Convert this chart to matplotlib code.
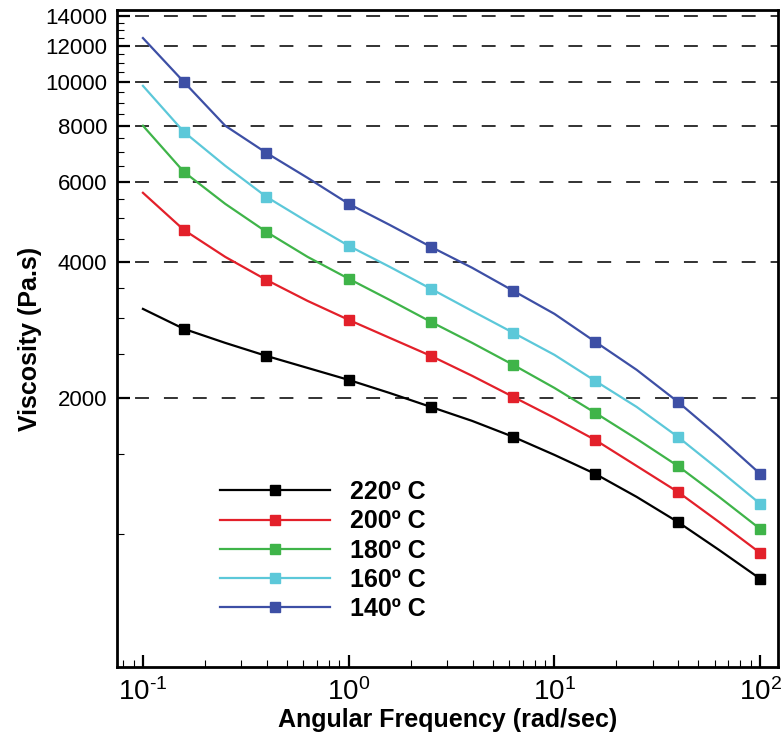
import matplotlib
matplotlib.use("Agg")
import matplotlib.pyplot as plt
from matplotlib.ticker import FixedLocator, NullFormatter, LogLocator

plt.rcParams['font.family'] = ['Liberation Sans', 'DejaVu Sans']
plt.rcParams['mathtext.fontset'] = 'custom'
plt.rcParams['mathtext.rm'] = 'Liberation Sans'
plt.rcParams['mathtext.it'] = 'Liberation Sans:italic'
plt.rcParams['mathtext.bf'] = 'Liberation Sans:bold'
plt.rcParams['axes.unicode_minus'] = False

freq = [0.1, 0.158, 0.251, 0.398, 0.631, 1.0, 1.58, 2.51, 3.98, 6.31,
        10.0, 15.8, 25.1, 39.8, 63.1, 100.0]

visc_220 = [3147, 2843, 2647, 2477, 2330, 2192, 2051, 1910, 1779, 1640,
            1496, 1358, 1208, 1063, 922, 796]
visc_200 = [5684, 4706, 4102, 3648, 3278, 2976, 2716, 2477, 2238, 2010,
            1806, 1614, 1414, 1239, 1063, 908]
visc_180 = [8000, 6325, 5374, 4659, 4102, 3669, 3295, 2946, 2647, 2366,
            2104, 1853, 1623, 1414, 1208, 1026]
visc_160 = [9800, 7754, 6524, 5569, 4903, 4339, 3900, 3486, 3114, 2786,
            2490, 2180, 1910, 1640, 1386, 1166]
visc_140 = [12500, 10000, 8000, 6966, 6134, 5374, 4828, 4316, 3880, 3450,
            3068, 2661, 2307, 1960, 1640, 1358]

series_labels = ['220º C', '200º C', '180º C', '160º C', '140º C']
series_colors = ['#000000', '#e3202a', '#3fb449', '#5cc8d9', '#3d4fa5']
series_data = [visc_220, visc_200, visc_180, visc_160, visc_140]

y_major = [2000, 4000, 6000, 8000, 10000, 12000, 14000]
y_minor = [1000, 1500, 2500, 3000, 3500, 4500, 5000, 5500, 6500, 7000, 7500,
           8500, 9000, 9500, 10500, 11000, 11500, 12500, 13000, 13500]

x_major = [0.1, 1, 10, 100]
x_labels = [r'$10^{\text{-}1}$', '$10^{0}$', '$10^{1}$', '$10^{2}$']

fig = plt.figure(figsize=(7.81, 7.38), dpi=100)
ax = fig.add_axes([117/781, 1 - 667/738, 661/781, 657/738])

for lab, col, vals in zip(series_labels, series_colors, series_data):
    ax.plot(freq, vals, color=col, lw=1.6, marker='s', ms=6.5,
            markevery=slice(1, None, 2), label=lab, zorder=3)

ax.set_xscale('log')
ax.set_yscale('log')
ax.set_xlim(0.0748, 122)
ax.set_ylim(508, 14420)

ax.yaxis.set_major_locator(FixedLocator(y_major))
ax.yaxis.set_minor_locator(FixedLocator(y_minor))
ax.yaxis.set_minor_formatter(NullFormatter())
ax.set_yticklabels([str(v) for v in y_major])
ax.xaxis.set_major_locator(FixedLocator(x_major))
ax.set_xticklabels(x_labels)
ax.xaxis.set_minor_locator(LogLocator(base=10, subs=range(2, 10), numticks=20))
ax.xaxis.set_minor_formatter(NullFormatter())

ax.tick_params(which='major', direction='in', length=9, width=1.6,
               labelsize=16, pad=7, top=False, right=False)
ax.tick_params(which='minor', direction='in', length=5, width=0.8,
               top=False, right=False)
ax.tick_params(axis='x', which='major', pad=8, labelsize=20)

for sp in ax.spines.values():
    sp.set_linewidth(2.0)

ax.grid(axis='y', which='major', color='#222222', linewidth=1.3,
        linestyle=(6, (7.7, 8.3)), zorder=1)

ax.set_xlabel('Angular Frequency (rad/sec)', fontsize=18, fontweight='bold')
ax.xaxis.set_label_coords(0.5, -0.062)
ax.set_ylabel('Viscosity (Pa.s)', fontsize=18, fontweight='bold')
ax.yaxis.set_label_coords(-0.113, 0.5)

leg = ax.legend(loc='upper left', bbox_to_anchor=(220/781, 1 - 480/738),
                bbox_transform=fig.transFigure, frameon=False,
                prop={'weight': 'bold', 'size': 18}, handlelength=4.4,
                handletextpad=0.8, labelspacing=0.21, borderpad=0,
                borderaxespad=0, markerscale=1.0)

fig.savefig('out.png', dpi=100)
